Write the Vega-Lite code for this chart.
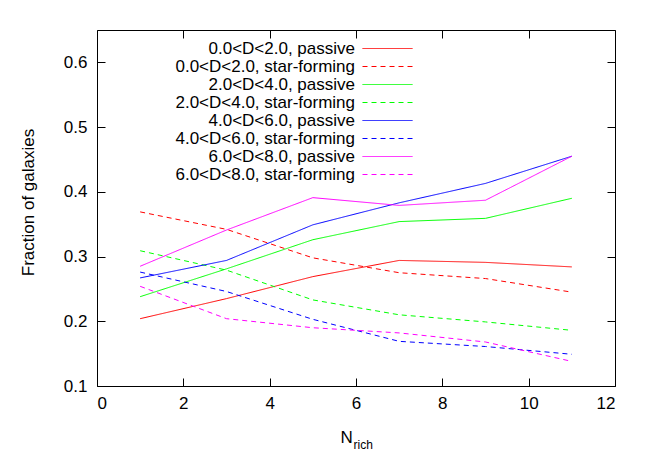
{
  "$schema": "https://vega.github.io/schema/vega-lite/v6.json",
  "width": 518,
  "height": 356,
  "autosize": {"type": "none"},
  "padding": {"left": 97, "top": 30, "right": 30, "bottom": 68},
  "background": "white",
  "config": {
    "font": "Liberation Sans",
    "view": {"stroke": null},
    "axis": {
      "grid": false,
      "domainColor": "black",
      "domainWidth": 1,
      "tickColor": "black",
      "tickWidth": 1,
      "tickSize": -8,
      "labelFont": "Liberation Sans",
      "labelFontSize": 17,
      "labelColor": "black",
      "titleFont": "Liberation Sans",
      "titleFontWeight": "normal",
      "titleColor": "black"
    },
    "legend": {
      "orient": "none",
      "legendX": 282,
      "legendY": 10,
      "padding": 0,
      "symbolType": "M-5,0H5",
      "symbolSize": 100,
      "symbolStrokeWidth": 1,
      "labelAlign": "right",
      "labelOffset": -41,
      "labelFont": "Liberation Sans",
      "labelFontSize": 17,
      "labelColor": "black",
      "rowPadding": 0,
      "labelLimit": 400
    }
  },
  "data": {
    "values": [
      {"n": 1, "f": 0.204, "s": "0.0<D<2.0, passive"},
      {"n": 3, "f": 0.235, "s": "0.0<D<2.0, passive"},
      {"n": 5, "f": 0.269, "s": "0.0<D<2.0, passive"},
      {"n": 7, "f": 0.294, "s": "0.0<D<2.0, passive"},
      {"n": 9, "f": 0.291, "s": "0.0<D<2.0, passive"},
      {"n": 11, "f": 0.284, "s": "0.0<D<2.0, passive"},
      {"n": 1, "f": 0.369, "s": "0.0<D<2.0, star-forming"},
      {"n": 3, "f": 0.342, "s": "0.0<D<2.0, star-forming"},
      {"n": 5, "f": 0.298, "s": "0.0<D<2.0, star-forming"},
      {"n": 7, "f": 0.275, "s": "0.0<D<2.0, star-forming"},
      {"n": 9, "f": 0.266, "s": "0.0<D<2.0, star-forming"},
      {"n": 11, "f": 0.245, "s": "0.0<D<2.0, star-forming"},
      {"n": 1, "f": 0.238, "s": "2.0<D<4.0, passive"},
      {"n": 3, "f": 0.281, "s": "2.0<D<4.0, passive"},
      {"n": 5, "f": 0.326, "s": "2.0<D<4.0, passive"},
      {"n": 7, "f": 0.354, "s": "2.0<D<4.0, passive"},
      {"n": 9, "f": 0.359, "s": "2.0<D<4.0, passive"},
      {"n": 11, "f": 0.390, "s": "2.0<D<4.0, passive"},
      {"n": 1, "f": 0.309, "s": "2.0<D<4.0, star-forming"},
      {"n": 3, "f": 0.279, "s": "2.0<D<4.0, star-forming"},
      {"n": 5, "f": 0.233, "s": "2.0<D<4.0, star-forming"},
      {"n": 7, "f": 0.210, "s": "2.0<D<4.0, star-forming"},
      {"n": 9, "f": 0.199, "s": "2.0<D<4.0, star-forming"},
      {"n": 11, "f": 0.186, "s": "2.0<D<4.0, star-forming"},
      {"n": 1, "f": 0.267, "s": "4.0<D<6.0, passive"},
      {"n": 3, "f": 0.294, "s": "4.0<D<6.0, passive"},
      {"n": 5, "f": 0.349, "s": "4.0<D<6.0, passive"},
      {"n": 7, "f": 0.383, "s": "4.0<D<6.0, passive"},
      {"n": 9, "f": 0.413, "s": "4.0<D<6.0, passive"},
      {"n": 11, "f": 0.455, "s": "4.0<D<6.0, passive"},
      {"n": 1, "f": 0.276, "s": "4.0<D<6.0, star-forming"},
      {"n": 3, "f": 0.246, "s": "4.0<D<6.0, star-forming"},
      {"n": 5, "f": 0.203, "s": "4.0<D<6.0, star-forming"},
      {"n": 7, "f": 0.169, "s": "4.0<D<6.0, star-forming"},
      {"n": 9, "f": 0.161, "s": "4.0<D<6.0, star-forming"},
      {"n": 11, "f": 0.149, "s": "4.0<D<6.0, star-forming"},
      {"n": 1, "f": 0.285, "s": "6.0<D<8.0, passive"},
      {"n": 3, "f": 0.341, "s": "6.0<D<8.0, passive"},
      {"n": 5, "f": 0.391, "s": "6.0<D<8.0, passive"},
      {"n": 7, "f": 0.379, "s": "6.0<D<8.0, passive"},
      {"n": 9, "f": 0.387, "s": "6.0<D<8.0, passive"},
      {"n": 11, "f": 0.455, "s": "6.0<D<8.0, passive"},
      {"n": 1, "f": 0.254, "s": "6.0<D<8.0, star-forming"},
      {"n": 3, "f": 0.204, "s": "6.0<D<8.0, star-forming"},
      {"n": 5, "f": 0.190, "s": "6.0<D<8.0, star-forming"},
      {"n": 7, "f": 0.182, "s": "6.0<D<8.0, star-forming"},
      {"n": 9, "f": 0.168, "s": "6.0<D<8.0, star-forming"},
      {"n": 11, "f": 0.138, "s": "6.0<D<8.0, star-forming"}
    ]
  },
  "layer": [
    {
      "mark": {"type": "line", "strokeWidth": 1, "clip": false},
      "encoding": {
        "x": {
          "field": "n", "type": "quantitative",
          "scale": {"domain": [0, 12], "nice": false, "zero": false},
          "axis": {
            "orient": "bottom",
            "values": [0, 2, 4, 6, 8, 10, 12],
            "labelPadding": 17,
            "title": "N",
            "titleFontSize": 17,
            "titleAlign": "left",
            "titleBaseline": "alphabetic",
            "titleX": 243,
            "titleY": 56,
            "titleAngle": 0
          }
        },
        "y": {
          "field": "f", "type": "quantitative",
          "scale": {"domain": [0.1, 0.65], "nice": false, "zero": false},
          "axis": {
            "orient": "left",
            "values": [0.1, 0.2, 0.3, 0.4, 0.5, 0.6],
            "format": ".1f",
            "labelPadding": 18,
            "title": "Fraction of galaxies",
            "titleFontSize": 17,
            "titleAngle": -90,
            "titleAlign": "center",
            "titleBaseline": "middle",
            "titleX": -69,
            "titleY": 172
          }
        },
        "color": {
          "field": "s", "type": "nominal", "title": null,
          "scale": {
            "domain": ["0.0<D<2.0, passive", "0.0<D<2.0, star-forming", "2.0<D<4.0, passive", "2.0<D<4.0, star-forming", "4.0<D<6.0, passive", "4.0<D<6.0, star-forming", "6.0<D<8.0, passive", "6.0<D<8.0, star-forming"],
            "range": ["#ff0000", "#ff0000", "#00ff00", "#00ff00", "#0000ff", "#0000ff", "#ff00ff", "#ff00ff"]
          },
          "legend": {
            "encode": {
              "symbols": {
                "update": {
                  "stroke": {"signal": "scale('color', datum.value)"},
                  "strokeDash": {"signal": "indexof(datum.value, 'star') >= 0 ? [5, 4] : [1, 0]"},
                  "strokeWidth": {"value": 1},
                  "opacity": {"value": 1}
                }
              }
            }
          }
        },
        "strokeDash": {
          "field": "s", "type": "nominal", "legend": null,
          "scale": {
            "domain": ["0.0<D<2.0, passive", "0.0<D<2.0, star-forming", "2.0<D<4.0, passive", "2.0<D<4.0, star-forming", "4.0<D<6.0, passive", "4.0<D<6.0, star-forming", "6.0<D<8.0, passive", "6.0<D<8.0, star-forming"],
            "range": [[1, 0], [5, 4], [1, 0], [5, 4], [1, 0], [5, 4], [1, 0], [5, 4]]
          }
        },
        "order": {"field": "n", "type": "quantitative"}
      }
    },
    {
      "mark": {"type": "point", "opacity": 0},
      "encoding": {
        "x": {
          "field": "n", "type": "quantitative",
          "axis": {
            "orient": "top",
            "values": [0, 2, 4, 6, 8, 10, 12],
            "labels": false,
            "title": "rich",
            "titleFontSize": 12,
            "titleAlign": "left",
            "titleBaseline": "alphabetic",
            "titleX": 256,
            "titleY": 418,
            "titleAngle": 0
          }
        },
        "y": {
          "field": "f", "type": "quantitative",
          "axis": {
            "orient": "right",
            "values": [0.1, 0.2, 0.3, 0.4, 0.5, 0.6],
            "labels": false,
            "title": null
          }
        }
      }
    }
  ],
  "resolve": {"axis": {"x": "independent", "y": "independent"}}
}
